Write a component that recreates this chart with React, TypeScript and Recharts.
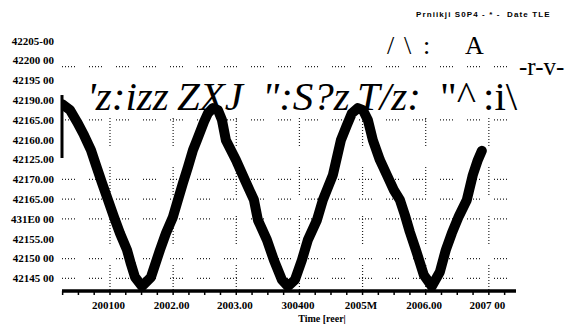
import React from "react";
import {
  LineChart,
  Line,
  XAxis,
  YAxis,
  ReferenceLine,
} from "recharts";

// ---- data ----
const years = [
  2000.24, 2000.367, 2000.478, 2000.588, 2000.699, 2000.778, 2000.873, 2000.968,
  2001.063, 2001.158, 2001.269, 2001.332, 2001.396, 2001.507, 2001.649, 2001.792,
  2001.886, 2001.997, 2002.076, 2002.156, 2002.235, 2002.314, 2002.377, 2002.488,
  2002.551, 2002.631, 2002.71, 2002.773, 2002.836, 2002.995, 2003.137, 2003.28,
  2003.343, 2003.485, 2003.596, 2003.723, 2003.818, 2003.929, 2004.039, 2004.134,
  2004.277, 2004.372, 2004.53, 2004.657, 2004.752, 2004.831, 2004.926, 2005.005,
  2005.084, 2005.163, 2005.274, 2005.385, 2005.496, 2005.591, 2005.67, 2005.749,
  2005.844, 2005.971, 2006.097, 2006.224, 2006.319, 2006.414, 2006.525, 2006.651,
  2006.746, 2006.826, 2006.889,
];
const values = [
  42189.0, 42187.5, 42184.5, 42181.2, 42177.4, 42173.6, 42169.1, 42164.8,
  42160.5, 42156.4, 42152.2, 42148.6, 42145.3, 42143.0, 42145.3, 42152.2,
  42156.4, 42160.5, 42164.8, 42169.1, 42173.1, 42177.4, 42179.9, 42184.5,
  42186.7, 42188.0, 42187.5, 42185.0, 42179.9, 42174.9, 42169.8, 42164.8,
  42159.7, 42154.7, 42149.6, 42144.6, 42143.0, 42144.6, 42149.6, 42154.7,
  42159.7, 42164.8, 42171.1, 42179.9, 42183.7, 42186.7, 42188.0, 42187.5,
  42185.0, 42179.9, 42174.9, 42171.1, 42167.3, 42164.8, 42161.0, 42156.7,
  42152.2, 42145.8, 42143.0, 42146.6, 42152.2, 42156.4, 42160.7, 42164.8,
  42171.1, 42174.9, 42177.2,
];

const yTickValues = [
  42205, 42200, 42195, 42190, 42185, 42180, 42175, 42170, 42165, 42160, 42155, 42150, 42145,
];
const yTickLabels = [
  "42205-00", "42200 00", "42195 00", "42190.00", "42165.00", "42160.00", "42125.00",
  "42170.00", "42165.00", "431E0 00", "42155.00", "42150 00", "42145 00",
];

const xMajorTicks = [2001, 2002, 2003, 2004, 2005, 2006, 2007];
const xTickLabels = ["200100", "2002.00", "2003.00", "300400", "2005M", "2006.00", "2007 00"];
const xMinorTicks = [
  2000.25, 2000.5, 2000.75, 2001.25, 2001.5, 2001.75, 2002.25, 2002.5, 2002.75,
  2003.25, 2003.5, 2003.75, 2004.25, 2004.5, 2004.75, 2005.25, 2005.5, 2005.75,
  2006.25, 2006.5, 2006.75, 2007.25,
];

// dotted grid rows / columns seen in the picture
const gridRowValues = [42198.5, 42185, 42170, 42165, 42160, 42150, 42145];
const gridColumnTop = 42185.5;
const yAxisStub = [42191.3, 42175.4];

const xDomain = [2000.24, 2007.43];
const yDomain = [42141.8, 42210];

const titleText = "Prniikji S0P4 - * -  Date TLE";
const xAxisTitle = "Time [reer|";

const data = years.map((y, i) => ({ year: y, value: values[i] }));
const allXTicks = [...xMajorTicks, ...xMinorTicks].sort((a, b) => a - b);

const SERIF = "'Liberation Serif', 'Times New Roman', serif";
const SANS = "'Liberation Sans', Arial, sans-serif";

const fmtY = (v: number) => {
  const i = yTickValues.findIndex((t) => Math.abs(t - v) < 1e-6);
  return i >= 0 ? yTickLabels[i] : "";
};
const fmtX = (v: number) => {
  const i = xMajorTicks.findIndex((t) => Math.abs(t - v) < 1e-6);
  return i >= 0 ? xTickLabels[i] : "";
};

const YTick = (props: any) => {
  const { x, y, payload } = props;
  return (
    <text
      x={x}
      y={y}
      dy="0.355em"
      textAnchor="end"
      fontFamily={SERIF}
      fontSize={11}
      fontWeight="bold"
      fill="#000"
      style={{ whiteSpace: "pre" }}
    >
      {fmtY(payload.value)}
    </text>
  );
};

const XTick = (props: any) => {
  const { x, y, payload } = props;
  const label = fmtX(payload.value);
  if (!label) return <g />;
  return (
    <text
      x={x - 1.5}
      y={y}
      dy="0.71em"
      textAnchor="middle"
      fontFamily={SERIF}
      fontSize={11}
      fontWeight="bold"
      fill="#000"
      style={{ whiteSpace: "pre" }}
    >
      {label}
    </text>
  );
};

const ROW_DASH = "1 2 1 2 1 2 1 2 1 14";
const COL_DASH = "1 2 1 2 1 2 1 2 1 2 1 2 1 2 1 2 1 2 1 21";

export default function App() {
  return (
    <div style={{ position: "relative", width: 566, height: 316 }}>
      <LineChart
        width={566}
        height={316}
        data={data}
        margin={{ top: 13, right: 58, bottom: 3, left: 0 }}
      >
        <XAxis
          xAxisId="main"
          dataKey="year"
          type="number"
          domain={xDomain}
          allowDataOverflow
          ticks={allXTicks}
          interval={0}
          height={30}
          axisLine={{ stroke: "#000", strokeWidth: 3.5 }}
          tickLine={{ stroke: "#000", strokeWidth: 1.5 }}
          tickSize={4}
          tickMargin={6}
          tick={<XTick />}
        />
        <YAxis
          yAxisId="main"
          type="number"
          domain={yDomain}
          allowDataOverflow
          ticks={yTickValues}
          interval={0}
          width={54}
          axisLine={false}
          tickLine={false}
          tickSize={0}
          tickMargin={8}
          tick={<YTick />}
        />
        {gridRowValues.map((v) => (
          <ReferenceLine
            key={`row-${v}`}
            xAxisId="main"
            yAxisId="main"
            y={v}
            stroke="#222"
            strokeWidth={1.2}
            strokeDasharray={ROW_DASH}
          />
        ))}
        {xMajorTicks.map((v) => (
          <ReferenceLine
            key={`col-${v}`}
            xAxisId="main"
            yAxisId="main"
            segment={[
              { x: v, y: gridColumnTop },
              { x: v, y: yDomain[0] },
            ]}
            stroke="#222"
            strokeWidth={1.2}
            strokeDasharray={COL_DASH}
          />
        ))}
        <ReferenceLine
          xAxisId="main"
          yAxisId="main"
          segment={[
            { x: xDomain[0], y: yAxisStub[0] },
            { x: xDomain[0], y: yAxisStub[1] },
          ]}
          stroke="#000"
          strokeWidth={3}
        />
        <Line
          xAxisId="main"
          yAxisId="main"
          type="linear"
          dataKey="value"
          stroke="#000"
          strokeWidth={10}
          strokeLinejoin="round"
          strokeLinecap="round"
          dot={false}
          isAnimationActive={false}
        />
      </LineChart>
      <svg
        width={574}
        height={324}
        style={{ position: "absolute", left: -8, top: -8, pointerEvents: "none" }}
      >
        <text x={416} y={17} fontFamily={SANS} fontSize={8} fontWeight="bold" letterSpacing={1.1} fill="#000" style={{ whiteSpace: "pre" }}>
          {titleText}
        </text>
        <text y={54} fontFamily={SERIF} fontSize={26} fill="#000">
          <tspan x={387}>/</tspan>
          <tspan x={404}>\</tspan>
          <tspan x={423}>:</tspan>
          <tspan x={465}>A</tspan>
        </text>
        <text x={519} y={75} fontFamily={SERIF} fontSize={25} fill="#000">
          -r-v-
        </text>
        <text y={110} fontFamily={SERIF} fontSize={41} fill="#000">
          <tspan x={87} fontStyle="italic">'z:izz</tspan>
          <tspan x={177} fontStyle="italic">ZXJ</tspan>
          <tspan x={262} fontStyle="italic">":S?z</tspan>
          <tspan x={357} fontStyle="italic">T/z:</tspan>
          <tspan x={440}>"^</tspan>
          <tspan x={483}>:i\</tspan>
        </text>
        <text x={322} y={322} textAnchor="middle" fontFamily={SERIF} fontSize={10} fontWeight="bold" fill="#000">
          {xAxisTitle}
        </text>
      </svg>
    </div>
  );
}
